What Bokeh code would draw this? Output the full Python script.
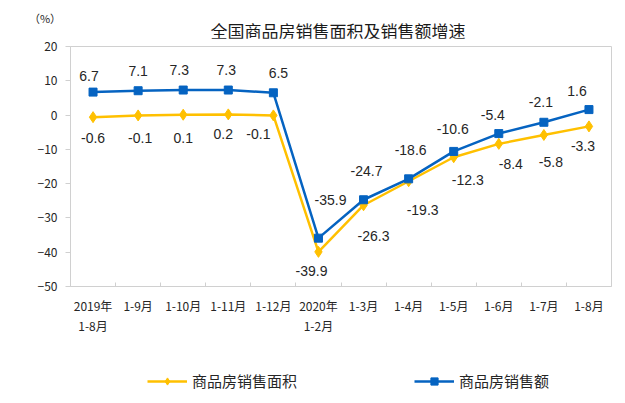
from bokeh.plotting import figure
from bokeh.layouts import column
from bokeh.models import Range1d, FixedTicker, Legend, LegendItem, ColumnDataSource, Div
from bokeh.core.properties import value
from bokeh.embed import file_html
from bokeh.resources import INLINE

# ---- data ----
categories = ["2019年\n1-8月", "1-9月", "1-10月", "1-11月", "1-12月", "2020年\n1-2月",
              "1-3月", "1-4月", "1-5月", "1-6月", "1-7月", "1-8月"]
area_growth = [-0.6, -0.1, 0.1, 0.2, -0.1, -39.9, -26.3, -19.3, -12.3, -8.4, -5.8, -3.3]
sales_growth = [6.7, 7.1, 7.3, 7.3, 6.5, -35.9, -24.7, -18.6, -10.6, -5.4, -2.1, 1.6]
y_ticks = [20, 10, 0, -10, -20, -30, -40, -50]
series_names = ["商品房销售面积", "商品房销售额"]
title_text = "全国商品房销售面积及销售额增速"
unit_text = "（%）"

# label offsets (pixels)
sales_dx = [-4, 0, -4, -2, 5, 12, 3, 2, -1, -6, -3, -12]
sales_dy = [-16, -20, -20, -20, -20, -38, -29, -29, -22, -19, -20, -19]
area_dx = [0, 2, 0, -5, -15, -7, 10, 14, 14, 12, 7, -6]
area_dy = [21, 23, 23, 20, 19, 19, 31, 29, 23, 20, 27, 20]

YELLOW = "#FFC000"
BLUE = "#0563C1"
GRID = "#d0d0d0"
TXT = "#262626"
W = 620
TOP_H = 38
MAIN_H = 324
LEG_H = 38
FRAME_L, FRAME_R, FRAME_T, FRAME_B = 70, 611, 46, 286

n = len(categories)
xs = [i + 0.5 for i in range(n)]

src = ColumnDataSource(dict(
    x=xs, area=area_growth, sales=sales_growth,
    area_lbl=[f"{v:.1f}" for v in area_growth],
    sales_lbl=[f"{v:.1f}" for v in sales_growth],
    sdx=sales_dx, sdy=sales_dy, adx=area_dx, ady=area_dy,
))

# ---- top strip: title and unit (HTML text) ----
top_html = (
    f'<div style="position:relative;width:{W}px;height:{TOP_H}px;'
    f'font-family:\'Noto Sans CJK SC\',sans-serif;color:{TXT};">'
    f'<span style="position:absolute;left:45px;top:18px;transform:translate(-50%,-50%);'
    f'font-size:11px;white-space:nowrap;line-height:1;">{unit_text}</span>'
    f'<span style="position:absolute;left:338px;top:30px;transform:translate(-50%,-50%);'
    f'font-size:17px;white-space:nowrap;line-height:1;color:#1a1a1a;">{title_text}</span>'
    f'</div>'
)
top = Div(text=top_html, width=W, height=TOP_H, margin=0)

# ---- main chart ----
p = figure(width=W, height=MAIN_H, output_backend="svg", toolbar_location=None,
           x_range=Range1d(0, n), y_range=Range1d(min(y_ticks), max(y_ticks)),
           min_border_left=FRAME_L, min_border_right=W - FRAME_R,
           min_border_top=FRAME_T - TOP_H,
           min_border_bottom=MAIN_H - (FRAME_B - TOP_H))
p.background_fill_color = "white"
p.border_fill_color = "white"
p.outline_line_color = GRID
p.outline_line_width = 1
p.xgrid.visible = False
p.ygrid.visible = False

xa = p.xaxis[0]
xa.ticker = FixedTicker(ticks=xs, minor_ticks=list(range(1, n)))
xa.major_label_overrides = {x: c for x, c in zip(xs, categories)}
xa.major_tick_in = 0
xa.major_tick_out = 0
xa.minor_tick_in = 4
xa.minor_tick_out = 0
xa.minor_tick_line_color = GRID
xa.axis_line_color = GRID
xa.major_label_standoff = 10
xa.major_label_text_font = "Noto Sans CJK SC"
xa.major_label_text_font_size = "12px"
xa.major_label_text_color = TXT

ya = p.yaxis[0]
ya.ticker = FixedTicker(ticks=y_ticks)
ya.major_tick_in = 0
ya.major_tick_out = 5
ya.minor_tick_line_color = None
ya.major_tick_line_color = GRID
ya.axis_line_color = GRID
ya.major_label_standoff = 8
ya.major_label_text_font = "Noto Sans CJK SC"
ya.major_label_text_font_size = "12px"
ya.major_label_text_color = TXT

p.line("x", "area", source=src, line_color=YELLOW, line_width=2.5)
p.scatter("x", "area", source=src, marker="diamond", size=11, color=YELLOW)
p.line("x", "sales", source=src, line_color=BLUE, line_width=2.5)
p.scatter("x", "sales", source=src, marker="square", size=8, color=BLUE)

p.text("x", "sales", text="sales_lbl", source=src, x_offset="sdx", y_offset="sdy",
       text_align="center", text_baseline="middle", text_font=value("Liberation Sans"),
       text_font_size="14px", text_color=TXT)
p.text("x", "area", text="area_lbl", source=src, x_offset="adx", y_offset="ady",
       text_align="center", text_baseline="middle", text_font=value("Liberation Sans"),
       text_font_size="14px", text_color=TXT)

# ---- legend strip ----
leg = figure(width=W, height=LEG_H, output_backend="svg", toolbar_location=None,
             x_range=Range1d(0, 1), y_range=Range1d(0, 1),
             x_axis_type=None, y_axis_type=None,
             min_border_left=FRAME_L, min_border_right=W - FRAME_R,
             min_border_top=0, min_border_bottom=0)
leg.outline_line_color = None
leg.xgrid.visible = False
leg.ygrid.visible = False
off = dict(x=[-5, -4], y=[-5, -5])  # outside the visible range; only the legend shows them
l1 = leg.line(line_color=YELLOW, line_width=2.5, **off)
m1 = leg.scatter(marker="diamond", size=11, color=YELLOW, **off)
l2 = leg.line(line_color=BLUE, line_width=2.5, **off)
m2 = leg.scatter(marker="square", size=8, color=BLUE, **off)
legend = Legend(items=[LegendItem(label=series_names[0], renderers=[l1, m1]),
                       LegendItem(label=series_names[1], renderers=[l2, m2])],
                orientation="horizontal", location=(147 - FRAME_L, 9),
                glyph_width=40, glyph_height=18, label_standoff=5, spacing=117,
                padding=0, margin=0, border_line_alpha=0, background_fill_alpha=0,
                label_text_font="Noto Sans CJK SC", label_text_font_size="15px",
                label_text_color=TXT)
leg.add_layout(legend, "center")

layout = column(top, p, leg, spacing=0)
open("out.html", "w").write(file_html(layout, INLINE))
